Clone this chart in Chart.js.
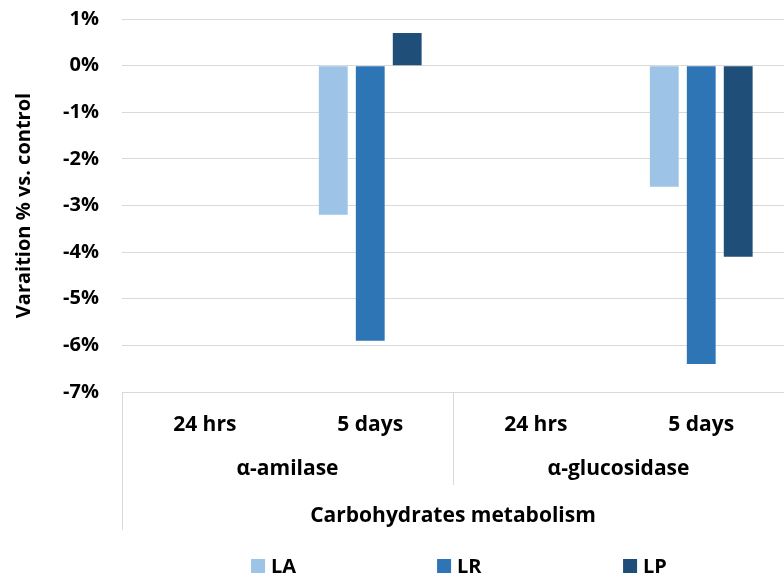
<!DOCTYPE html>
<html>
<head>
<meta charset="utf-8">
<script src="https://cdn.jsdelivr.net/npm/chart.js@4.4.1/dist/chart.umd.min.js"></script>
<style>
  html, body { margin: 0; padding: 0; background: #fff; }
  #wrap { width: 784px; height: 576px; }
</style>
</head>
<body>
<div id="wrap"><canvas id="grafica"></canvas></div>
<script>
// dades
const categories = ['24 hrs', '5 days', '24 hrs', '5 days'];
const groups = ['α-amilase', 'α-glucosidase'];
const topGroup = 'Carbohydrates metabolism';
const seriesNames = ['LA', 'LR', 'LP'];
const valuesLA = [null, -3.2, null, -2.6];
const valuesLR = [null, -5.9, null, -6.4];
const valuesLP = [null, 0.7, null, -4.1];
const colors = ['#9DC3E6', '#2E75B6', '#1F4E79'];
const yTicks = [1, 0, -1, -2, -3, -4, -5, -6, -7];

const FONT = '"Open Sans", "Noto Sans", sans-serif';
const GRID = '#d9d9d9';

// plugin que dibuixa la jerarquia de l'eix X i la llegenda
const hierarchyPlugin = {
    id: 'hierarchy',
    afterDraw(chart) {
        const { ctx, chartArea, scales } = chart;
        const x = scales.x;
        const bottom = chartArea.bottom;
        const catW = x.getPixelForValue(1) - x.getPixelForValue(0);

        ctx.save();
        ctx.strokeStyle = GRID;
        ctx.lineWidth = 1;

        // línies verticals de separació
        ctx.beginPath();
        ctx.moveTo(Math.round(chartArea.left) + 0.5, bottom);
        ctx.lineTo(Math.round(chartArea.left) + 0.5, bottom + 138);
        const perGroup = categories.length / groups.length;
        for (let g = 1; g < groups.length; g++) {
            const xs = Math.round(x.getPixelForValue(g * perGroup) - catW / 2) + 0.5;
            ctx.moveTo(xs, bottom);
            ctx.lineTo(xs, bottom + 93);
        }
        ctx.stroke();

        // etiquetes de grup
        ctx.fillStyle = '#000';
        ctx.font = 'bold 21px ' + FONT;
        ctx.textAlign = 'center';
        ctx.textBaseline = 'middle';
        groups.forEach((g, i) => {
            const a = x.getPixelForValue(i * perGroup) - catW / 2;
            const b = x.getPixelForValue((i + 1) * perGroup - 1) + catW / 2;
            ctx.fillText(g, (a + b) / 2, bottom + 77);
        });
        ctx.fillText(topGroup, (chartArea.left + chartArea.right) / 2, bottom + 124);

        // llegenda
        ctx.font = 'bold 20px ' + FONT;
        const box = 14, gap = 6, step = 186;
        const lastW = box + gap + ctx.measureText(seriesNames[seriesNames.length - 1]).width;
        const total = step * (seriesNames.length - 1) + lastW;
        let lx = (chartArea.left + chartArea.right) / 2 - total / 2 + 6;
        const ly = bottom + 174;
        ctx.textAlign = 'left';
        chart.data.datasets.forEach((ds) => {
            ctx.fillStyle = ds.backgroundColor;
            ctx.fillRect(lx, ly - box / 2, box, box);
            ctx.fillStyle = '#000';
            ctx.fillText(ds.label, lx + box + gap, ly + 1);
            lx += step;
        });
        ctx.restore();
    }
};

const ctxGrafica = document.getElementById('grafica').getContext('2d');

new Chart(ctxGrafica, {
    type: 'bar',
    data: {
        labels: categories,
        datasets: [
            { label: seriesNames[0], data: valuesLA, backgroundColor: colors[0] },
            { label: seriesNames[1], data: valuesLR, backgroundColor: colors[1] },
            { label: seriesNames[2], data: valuesLP, backgroundColor: colors[2] }
        ]
    },
    options: {
        responsive: true,
        maintainAspectRatio: false,
        animation: false,
        categoryPercentage: 0.67,
        barPercentage: 0.78,
        layout: { padding: { top: 19, right: 0, bottom: 0, left: 0 } },
        plugins: {
            legend: { display: false },
            tooltip: { enabled: false }
        },
        scales: {
            x: {
                grid: { display: false },
                border: { display: false },
                ticks: {
                    color: '#000',
                    font: { family: FONT, size: 21, weight: 'bold' },
                    padding: 12,
                    maxRotation: 0,
                    autoSkip: false
                },
                afterFit(scale) { scale.height = 184; }
            },
            y: {
                min: -7,
                max: 1,
                afterBuildTicks(scale) {
                    scale.ticks = yTicks.map(v => ({ value: v }));
                },
                grid: { color: GRID, lineWidth: 1, drawTicks: false },
                border: { display: false },
                ticks: {
                    color: '#000',
                    font: { family: FONT, size: 20, weight: 'bold' },
                    padding: 23,
                    callback: (v) => v + '%'
                },
                title: {
                    display: true,
                    text: 'Varaition % vs. control',
                    color: '#000',
                    font: { family: FONT, size: 20, weight: 'bold' },
                    padding: { top: 12, bottom: 0 }
                },
                afterFit(scale) {
                    scale.width = 122;
                    scale.paddingTop = 0;
                    scale.paddingBottom = 0;
                }
            }
        }
    },
    plugins: [hierarchyPlugin]
});
</script>
</body>
</html>
